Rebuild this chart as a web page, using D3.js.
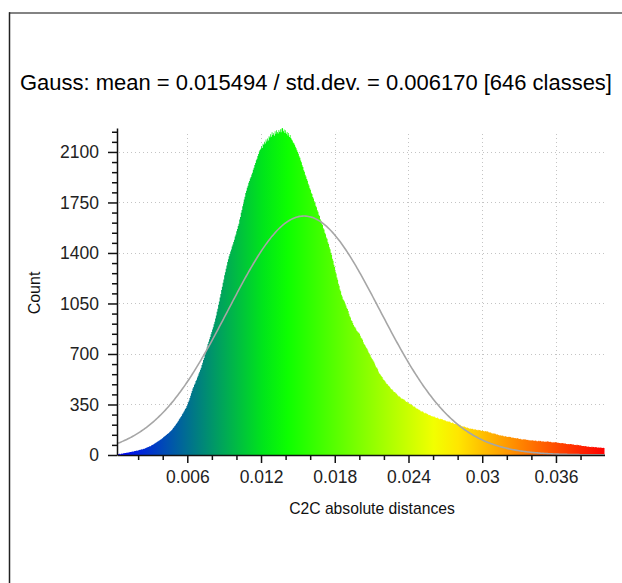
<!DOCTYPE html>
<html><head><meta charset="utf-8">
<script src="https://cdn.jsdelivr.net/npm/d3@7"></script>
<style>html,body{margin:0;padding:0;background:#fff;} svg{display:block;}</style>
</head><body><svg id="c" width="622" height="583"></svg>
<script>
const title = "Gauss: mean = 0.015494 / std.dev. = 0.006170 [646 classes]";
const xLabel = "C2C absolute distances";
const yLabel = "Count";
const gaussMean = 0.015494;
const gaussStd = 0.006170;
const gaussPeak = 1656;
const xDomain = [0.00028, 0.03995];
const yTicks = [0, 350, 700, 1050, 1400, 1750, 2100];
const yMinorTicks = [70,140,210,280,420,490,560,630,770,840,910,980,1120,1190,1260,1330,1470,1540,1610,1680,1820,1890,1960,2030,2170,2240];
const xTicks = [0.006, 0.012, 0.018, 0.024, 0.03, 0.036];
const xTickLabels = ["0.006", "0.012", "0.018", "0.024", "0.03", "0.036"];
const xMinorTicks = [0.002,0.004,0.008,0.010,0.014,0.016,0.020,0.022,0.026,0.028,0.032,0.034,0.038];
const colorStops = ["#0000ff", "#00ff00", "#ffff00", "#ff0000"];
const counts = [
4,7,5,8,6,9,10,9,12,12,
14,13,16,15,18,17,19,21,20,23,
24,23,26,28,27,29,31,30,33,34,
36,37,39,38,42,44,43,47,49,52,
54,56,58,62,61,66,69,71,74,78,
82,85,88,91,96,99,102,105,110,113,
118,123,126,132,135,139,145,147,153,157,
162,166,173,179,187,192,201,206,215,221,
230,237,247,254,263,271,282,289,300,309,
319,326,339,350,366,378,395,410,428,443,
461,471,486,496,512,522,537,549,564,577,
591,605,623,639,658,673,694,710,731,750,
769,785,802,817,837,852,869,886,906,924,
946,966,993,1013,1042,1064,1092,1116,1143,1166,
1194,1216,1245,1266,1291,1313,1338,1356,1378,1393,
1410,1424,1444,1458,1476,1492,1514,1528,1550,1566,
1587,1602,1632,1650,1678,1698,1724,1743,1770,1790,
1816,1831,1852,1866,1887,1898,1916,1927,1943,1956,
1977,1990,2010,2023,2043,2053,2072,2086,2103,2114,
2122,2140,2128,2156,2150,2170,2158,2186,2172,2194,
2180,2208,2200,2222,2206,2236,2218,2230,2212,2244,
2226,2250,2238,2228,2252,2240,2258,2236,2262,2266,
2244,2256,2232,2250,2226,2238,2214,2232,2204,2218,
2196,2186,2180,2166,2160,2150,2136,2126,2112,2100,
2088,2070,2060,2040,2028,2008,1996,1974,1962,1942,
1930,1912,1900,1880,1868,1848,1838,1818,1808,1788,
1778,1758,1748,1728,1716,1696,1686,1664,1656,1634,
1624,1604,1594,1572,1562,1540,1530,1508,1498,1474,
1462,1440,1426,1402,1388,1360,1346,1318,1302,1272,
1258,1230,1214,1186,1172,1146,1134,1110,1098,1080,
1072,1064,1050,1036,1020,1012,998,978,962,952,
934,928,915,900,890,886,876,862,858,850,
848,840,826,812,808,798,782,770,762,752,
744,736,724,710,704,695,680,670,664,654,
646,634,620,608,604,594,578,566,562,552,
546,540,528,520,516,510,500,492,490,482,
478,472,462,456,455,448,440,436,434,428,
424,418,410,406,406,400,394,390,390,386,
384,380,372,368,370,364,358,356,356,350,
348,344,338,334,336,330,324,320,320,316,
314,310,304,302,304,299,294,290,292,288,
288,284,279,276,278,274,270,266,268,265,
266,262,258,256,259,255,251,248,251,248,
249,246,242,239,242,238,234,232,234,231,
232,229,224,222,226,221,217,214,217,213,
215,212,207,205,209,204,200,197,200,196,
197,194,190,188,191,187,184,182,184,181,
183,181,177,176,179,176,173,172,175,172,
174,172,168,167,170,167,164,163,166,162,
164,162,158,156,158,154,150,149,151,147,
149,147,143,141,143,139,136,135,137,133,
135,133,130,129,131,128,126,125,127,124,
126,124,121,120,122,119,117,116,118,115,
117,115,112,111,113,110,108,108,110,107,
109,107,105,104,106,103,102,101,103,100,
103,101,99,98,100,98,96,96,98,95,
98,97,94,94,96,93,92,92,94,91,
95,93,91,90,92,89,88,87,89,86,
90,88,86,85,87,84,83,82,84,81,
84,82,80,79,80,77,76,75,77,74,
77,76,74,73,74,71,70,70,71,68,
71,69,67,66,67,64,63,62,63,60,
62,61,59,58,59,57,56,55,57,54,
57,56,54,54,55,53,52,51,53,51,
52,51,50,49,51,48
];

const svg = d3.select("#c");
const FONT = "'Liberation Sans', Arial, sans-serif";
const plot = {left: 117, right: 604.5, top: 128, bottom: 455};

const x = d3.scaleLinear().domain(xDomain).range([plot.left, plot.right]);
const y = d3.scaleLinear().domain([0, d3.max(counts)]).range([plot.bottom, plot.top]);
const color = d3.scaleLinear().domain([0, 1/3, 2/3, 1]).range(colorStops).interpolate(d3.interpolateRgb);

// gradient for bar colours (colour follows class position along x)
const defs = svg.append("defs");
const grad = defs.append("linearGradient").attr("id", "histGrad")
  .attr("gradientUnits", "userSpaceOnUse")
  .attr("x1", plot.left).attr("x2", plot.right).attr("y1", 0).attr("y2", 0);
grad.selectAll("stop").data(d3.range(0, 21)).join("stop")
  .attr("offset", k => k / 20).attr("stop-color", k => color(k / 20));

// frame
svg.append("line").attr("x1", 9).attr("x2", 622).attr("y1", 13).attr("y2", 13)
  .attr("stroke", "#5a5a5a").attr("stroke-width", 1.5);
svg.append("line").attr("x1", 9.5).attr("x2", 9.5).attr("y1", 12.3).attr("y2", 583)
  .attr("stroke", "#222").attr("stroke-width", 1.5);

// title
const t = svg.append("text").attr("x", 316).attr("y", 90).attr("text-anchor", "middle")
  .attr("font-family", FONT).attr("font-size", 20).attr("fill", "#000").text(title);
const tw = t.node().getComputedTextLength();
t.attr("font-size", 20 * 592 / tw);

// grid
const grid = svg.append("g").attr("stroke", "#c4c4c4").attr("stroke-width", 1).attr("stroke-dasharray", "1,3");
grid.selectAll(".h").data(yTicks.filter(d => d > 0)).join("line")
  .attr("x1", plot.left + 2).attr("x2", plot.right)
  .attr("y1", d => Math.round(y(d)) + 0.5).attr("y2", d => Math.round(y(d)) + 0.5);
grid.selectAll(".v").data(xTicks).join("line")
  .attr("x1", d => Math.round(x(d)) + 0.5).attr("x2", d => Math.round(x(d)) + 0.5)
  .attr("y1", plot.bottom).attr("y2", plot.top + 3);

// bars: one step outline, one step per class
const n = counts.length;
const w = (xDomain[1] - xDomain[0]) / n;
const steps = counts.map((c, i) => [xDomain[0] + i * w, c]);
steps.push([xDomain[1], counts[n - 1]]);
const area = d3.area().curve(d3.curveStepAfter)
  .x(d => x(d[0])).y0(y(0)).y1(d => y(d[1]));
svg.append("path").datum(steps).attr("d", area).attr("fill", "url(#histGrad)");

// gauss curve
const gx = d3.range(0, 401).map(k => xDomain[0] + k * (xDomain[1] - xDomain[0]) / 400);
const line = d3.line().x(v => x(v)).y(v => y(gaussPeak * Math.exp(-0.5 * Math.pow((v - gaussMean) / gaussStd, 2))));
svg.append("path").datum(gx).attr("d", line).attr("fill", "none")
  .attr("stroke", "#a6a6a6").attr("stroke-width", 1.6);

// axes
svg.append("g").attr("transform", `translate(${plot.left},0)`)
  .call(d3.axisLeft(y).tickValues(yTicks).tickSizeInner(9).tickSizeOuter(0).tickPadding(9).tickFormat(d3.format("d")));
svg.append("g").attr("transform", `translate(${plot.left},0)`)
  .call(d3.axisLeft(y).tickValues(yMinorTicks).tickSizeInner(5).tickSizeOuter(0).tickFormat(""))
  .select(".domain").remove();
svg.append("g").attr("transform", `translate(0,${plot.bottom})`)
  .call(d3.axisBottom(x).tickValues(xTicks).tickSizeInner(8).tickSizeOuter(0).tickPadding(8).tickFormat((d, i) => xTickLabels[i]));
svg.append("g").attr("transform", `translate(0,${plot.bottom})`)
  .call(d3.axisBottom(x).tickValues(xMinorTicks).tickSizeInner(5).tickSizeOuter(0).tickFormat(""))
  .select(".domain").remove();

svg.selectAll(".domain, .tick line").attr("stroke", "#111").attr("stroke-width", 1.5);
svg.selectAll(".tick text").attr("font-family", FONT).attr("font-size", 17.5).attr("fill", "#222");

// axis labels
svg.append("text").attr("x", 372).attr("y", 514).attr("text-anchor", "middle")
  .attr("font-family", FONT).attr("font-size", 15.7).attr("fill", "#111").text(xLabel);
svg.append("text").attr("transform", "translate(40,293) rotate(-90)").attr("text-anchor", "middle")
  .attr("font-family", FONT).attr("font-size", 16).attr("fill", "#111").text(yLabel);
</script></body></html>
